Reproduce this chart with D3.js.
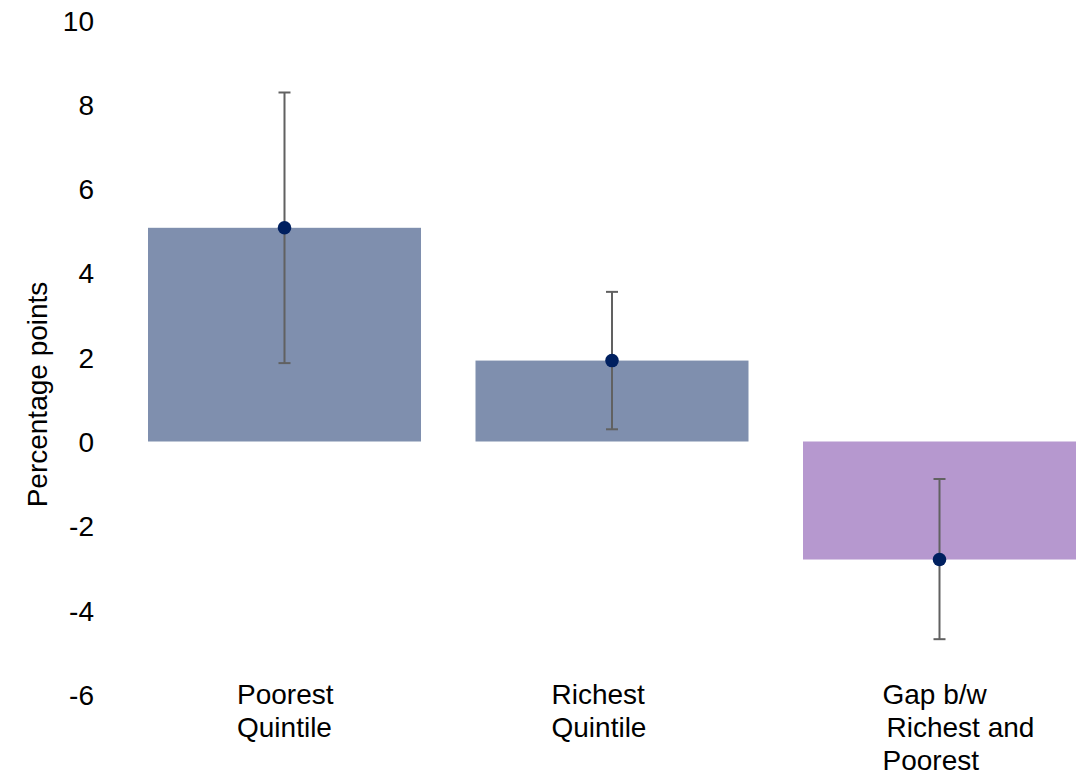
<!DOCTYPE html>
<html>
<head>
<meta charset="utf-8">
<script src="https://cdn.jsdelivr.net/npm/d3@7/dist/d3.min.js"></script>
<style>
  html, body { margin: 0; padding: 0; background: #ffffff; }
  svg { display: block; font-family: Arial, "Liberation Sans", sans-serif; }
</style>
</head>
<body>
<svg id="chart" width="1084" height="772"></svg>
<script>
// Categories (each label split into lines) and their estimates
const categories = ["Poorest Quintile", "Richest Quintile", "Gap b/w Richest and Poorest"];
const labelLines = [["Poorest", "Quintile"], ["Richest", "Quintile"], ["Gap b/w", "Richest and", "Poorest"]];
const values = [5.07, 1.92, -2.80];
const ciLow = [1.86, 0.29, -4.69];
const ciHigh = [8.28, 3.55, -0.89];
const yTicks = [-6, -4, -2, 0, 2, 4, 6, 8, 10];
const barColors = ["#7f8fae", "#7f8fae", "#b698cf"];

const svg = d3.select("#chart");

const x = d3.scaleBand()
  .domain(categories)
  .range([148, 1076])
  .paddingInner(0.1664)
  .paddingOuter(0);

const y = d3.scaleLinear()
  .domain([-6, 10])
  .range([694.4, 20]);

const fontSize = 28;

// Y tick labels (no axis line, no tick marks), plain hyphen for negatives
const yAxis = d3.axisLeft(y).tickValues(yTicks).tickSize(0).tickPadding(0).tickFormat(d => String(d));
const yg = svg.append("g").attr("transform", "translate(94,0)").call(yAxis);
yg.select(".domain").remove();
yg.selectAll("text")
  .attr("font-size", fontSize)
  .attr("font-family", "Arial, 'Liberation Sans', sans-serif")
  .attr("fill", "#000")
  .attr("dy", "0.36em");

// Y axis title
svg.append("text")
  .attr("transform", "translate(47,394.5) rotate(-90)")
  .attr("text-anchor", "middle")
  .attr("font-size", fontSize)
  .attr("fill", "#000")
  .text("Percentage points");

// Bars
svg.append("g").selectAll("rect")
  .data(categories)
  .join("rect")
  .attr("x", d => x(d))
  .attr("width", x.bandwidth())
  .attr("y", (d, i) => y(Math.max(0, values[i])))
  .attr("height", (d, i) => Math.abs(y(values[i]) - y(0)))
  .attr("fill", (d, i) => barColors[i]);

// Error bars
const capHalf = 6;
const eg = svg.append("g").attr("stroke", "#616161").attr("stroke-width", 2);
categories.forEach((c, i) => {
  const cx = x(c) + x.bandwidth() / 2;
  eg.append("line").attr("x1", cx).attr("x2", cx).attr("y1", y(ciLow[i])).attr("y2", y(ciHigh[i]));
  eg.append("line").attr("x1", cx - capHalf).attr("x2", cx + capHalf).attr("y1", y(ciHigh[i])).attr("y2", y(ciHigh[i]));
  eg.append("line").attr("x1", cx - capHalf).attr("x2", cx + capHalf).attr("y1", y(ciLow[i])).attr("y2", y(ciLow[i]));
});

// Point estimates
svg.append("g").selectAll("circle")
  .data(categories)
  .join("circle")
  .attr("cx", d => x(d) + x.bandwidth() / 2)
  .attr("cy", (d, i) => y(values[i]))
  .attr("r", 6.8)
  .attr("fill", "#002060");

// Category labels below the plot, left-aligned blocks
const labelShift = [-47.5, -60.5, -57];
const lineIndent = [[0, 0], [0, 0], [0, 4, 0]];
const lineHeight = 33.2;
categories.forEach((c, i) => {
  const cx = x(c) + x.bandwidth() / 2;
  const t = svg.append("text")
    .attr("font-size", fontSize)
    .attr("fill", "#000");
  labelLines[i].forEach((ln, j) => {
    t.append("tspan")
      .attr("x", cx + labelShift[i] + lineIndent[i][j])
      .attr("y", 703.5 + j * lineHeight)
      .text(ln);
  });
});
</script>
</body>
</html>
